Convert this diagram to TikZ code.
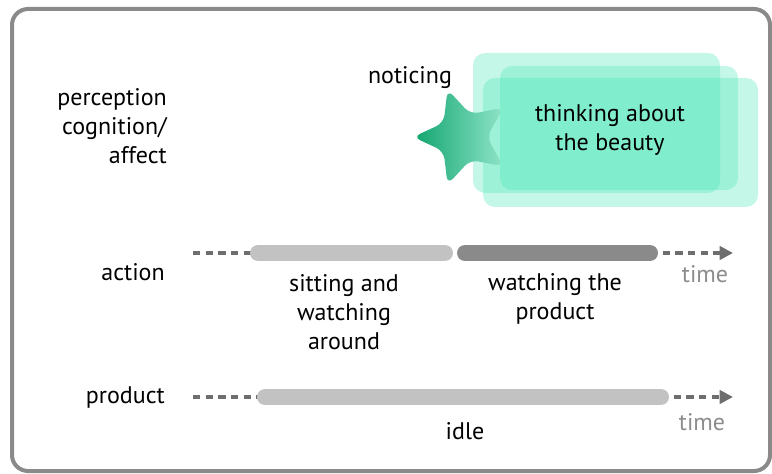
\documentclass[tikz,border=0pt]{standalone}
\usepackage{fontspec}
\setmainfont{PT Sans}
\usetikzlibrary{arrows.meta}
\definecolor{framegray}{HTML}{8A8A8A}
\definecolor{mint}{RGB}{62,228,178}
\definecolor{stardark}{HTML}{10A46E}
\definecolor{starlight}{HTML}{8FE4C8}
\definecolor{barlight}{HTML}{C2C2C2}
\definecolor{bardark}{HTML}{8A8A8A}
\definecolor{dashgray}{HTML}{6E6E6E}
\definecolor{timegray}{HTML}{8C8C8C}
\tikzset{
  lbl/.style={inner sep=0pt, text=black},
  mintbox/.style={fill=mint, fill opacity=0.3, rounded corners=9pt},
  dashline/.style={draw=dashgray, line width=2.5pt, dash pattern=on 5.5pt off 4pt},
  barl/.style={draw=barlight, line width=12pt, line cap=round},
  bard/.style={draw=bardark, line width=12pt, line cap=round},
  tip/.style={-{Triangle[length=10pt,width=10pt]}},
  timelbl/.style={inner sep=0pt, text=timegray}
}
\begin{document}
\begin{tikzpicture}[x=0.75pt,y=-0.75pt, font=\fontsize{18}{21.75}\selectfont]
\useasboundingbox (0,0) rectangle (772,474);
\draw[framegray, line width=3pt, rounded corners=12pt] (12,9) rectangle (770,471);

% row labels
\node[lbl, anchor=east, align=right] (pca) at (167,126) {perception\\cognition/\\affect};
\node[lbl, anchor=east] (act) at (165,272) {action};
\node[lbl, anchor=east] (prod) at (165,397) {product};

% thinking boxes
\path[mintbox] (473,53) rectangle (720,193);
\path[mintbox] (500,66) rectangle (738,190);
\path[mintbox] (483,78) rectangle (758,207);
\node[lbl, align=center] (think) at (610,130) {thinking about\\the beauty};

% star
\begin{scope}[shift={(463,137)}]
\shade[left color=stardark, right color=starlight, rounded corners=6pt]
  (180:50) -- (144:24) -- (108:50) -- (72:24) -- (36:50) -- (0:24)
  -- (-36:50) -- (-72:24) -- (-108:50) -- (-144:24) -- cycle;
\end{scope}
\node[lbl] (notice) at (410,78) {noticing};

% action timeline
\coordinate (a0) at (193,253);
\coordinate (a1) at (258,253);
\coordinate (a2) at (445,253);
\coordinate (a3) at (465,253);
\coordinate (a4) at (650,253);
\coordinate (a5) at (733,253);
\draw[dashline] (a0) -- (a1);
\draw[dashline, tip] (a4) -- (a5);
\draw[barl] (a1) -- (a2);
\draw[bard] (a3) -- (a4);
\node[timelbl] (t1) at (705,274) {time};
\node[lbl, align=center] (sit) at (344,312) {sitting and\\watching\\around};
\node[lbl, align=center] (watch) at (555,299) {watching the\\product};

% product timeline
\coordinate (p0) at (193,397);
\coordinate (p1) at (265,397);
\coordinate (p2) at (661,397);
\coordinate (p3) at (733,397);
\draw[dashline] (p0) -- (p1);
\draw[dashline, tip] (p2) -- (p3);
\draw[barl] (p1) -- (p2);
\node[timelbl] (t2) at (702,422) {time};
\node[lbl] (idle) at (465,431) {idle};
\end{tikzpicture}
\end{document}
